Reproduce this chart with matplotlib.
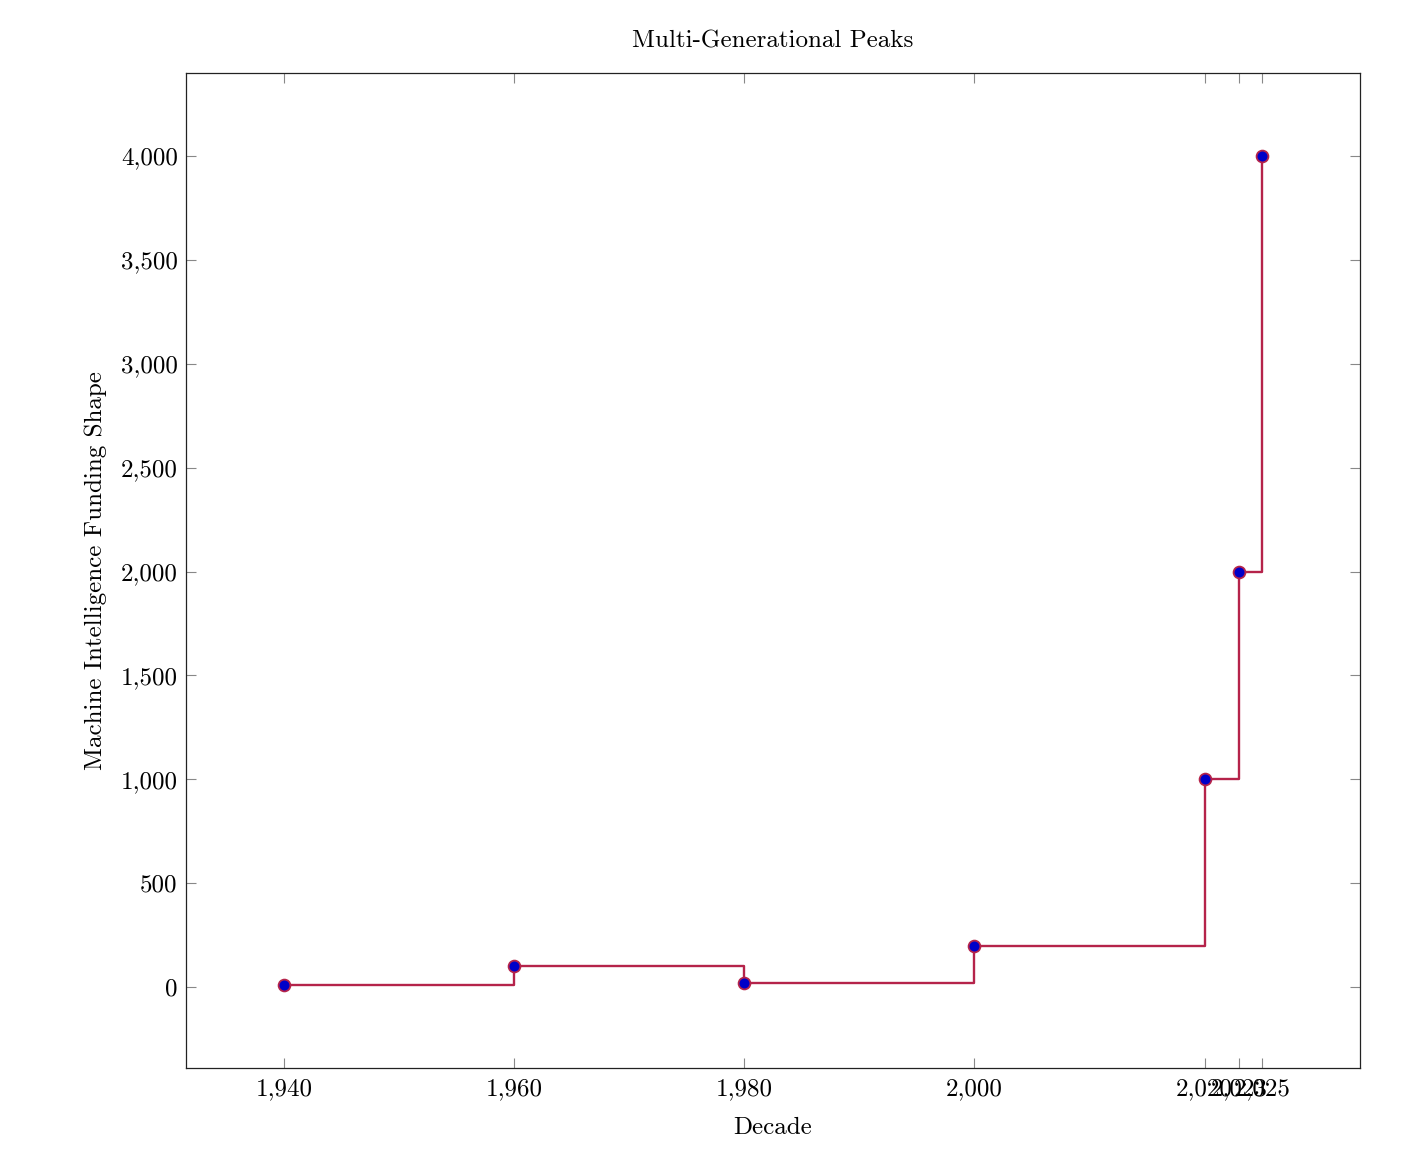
import matplotlib
matplotlib.use("Agg")
import matplotlib.pyplot as plt
from matplotlib.ticker import FuncFormatter, FixedLocator

years = [1940, 1960, 1980, 2000, 2020, 2023, 2025]
funding = [10, 100, 20, 200, 1000, 2000, 4000]
yticks = [0, 500, 1000, 1500, 2000, 2500, 3000, 3500, 4000]

plt.rcParams['font.family'] = ['cmr10', 'DejaVu Serif']
plt.rcParams['axes.formatter.use_mathtext'] = True

fig = plt.figure(figsize=(14.14, 11.64), dpi=100)
ax = fig.add_axes([186/1414, 1 - 1068/1164, (1360-186)/1414, (1068-73)/1164])

line_color = '#B5234A'
ax.step(years, funding, where='post', color=line_color, lw=1.7, zorder=2)
ax.plot(years, funding, linestyle='none', marker='o', markersize=8.5,
        markerfacecolor='#0000C8', markeredgecolor=line_color, markeredgewidth=1.3, zorder=3)

xr = years[-1] - years[0]
ax.set_xlim(years[0] - 0.1*xr, years[-1] + 0.1*xr)
yr = max(funding) - min(funding)
ax.set_ylim(min(funding) - 0.1*yr, max(funding) + 0.1*yr)

ax.xaxis.set_major_locator(FixedLocator(years))
ax.yaxis.set_major_locator(FixedLocator(yticks))
fmt = FuncFormatter(lambda v, p: f"{int(round(v)):,}")
ax.xaxis.set_major_formatter(fmt)
ax.yaxis.set_major_formatter(fmt)

ax.tick_params(direction='in', length=7, width=0.8, color='#888888',
               top=True, right=True, labelsize=18)
ax.tick_params(axis='x', pad=7)
ax.tick_params(axis='y', pad=6)
for s in ax.spines.values():
    s.set_linewidth(0.9)
    s.set_color('#222222')

ax.set_title("Multi-Generational Peaks", fontsize=18, pad=18)
ax.set_xlabel("Decade", fontsize=18, labelpad=12)
ax.set_ylabel("Machine Intelligence Funding Shape", fontsize=18, labelpad=10)

fig.savefig("out.png", dpi=100)
